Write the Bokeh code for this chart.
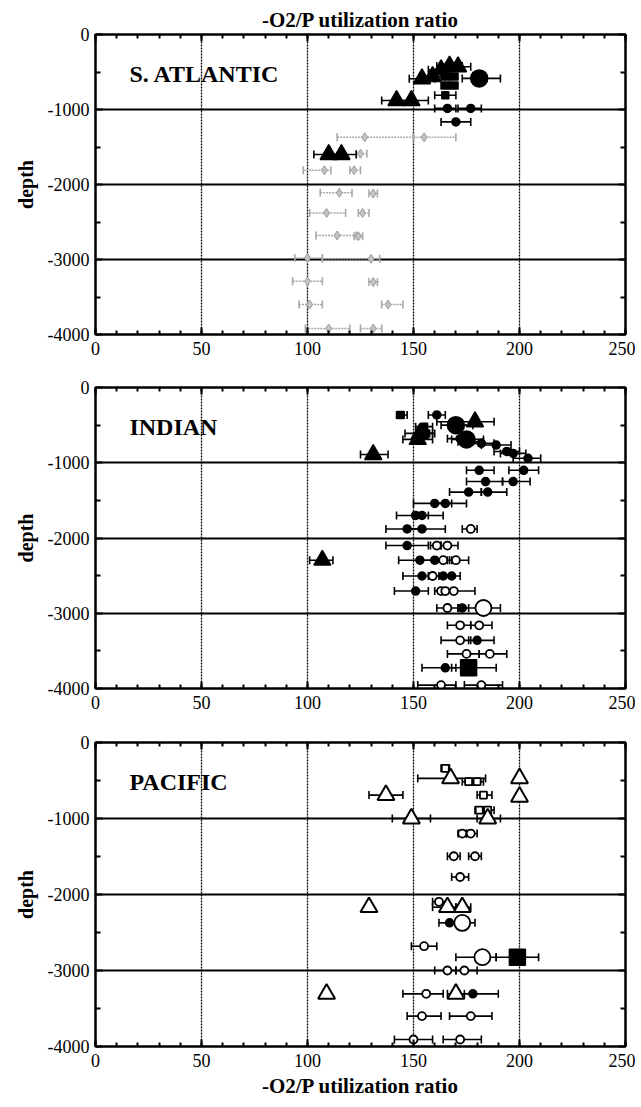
from bokeh.plotting import figure
from bokeh.layouts import column
from bokeh.models import (Range1d, FixedTicker, LinearAxis, Whisker, TeeHead,
                          ColumnDataSource, Label)
from bokeh.embed import file_html
from bokeh.resources import INLINE

# ---------------- tick values ----------------
X_TICKS = [0, 50, 100, 150, 200, 250]
X_MINOR = [0, 10, 20, 30, 40, 50, 60, 70, 80, 90, 100, 110, 120, 130, 140, 150,
           160, 170, 180, 190, 200, 210, 220, 230, 240, 250]
X_GRID = [50, 100, 150, 200]
Y_TICKS = [-4000, -3000, -2000, -1000, 0]
Y_TICK_LABELS = ["-4000", "-3000", "-2000", "-1000", "0"]
Y_MINOR = [-3500, -2500, -1500, -500]
Y_GRID = [-3000, -2000, -1000]

# ---------------- S. ATLANTIC ----------------
sa_tri_x = [163, 167, 171, 154, 159, 142, 149, 110, 116]
sa_tri_y = [-470, -420, -430, -590, -560, -880, -880, -1600, -1600]
sa_tri_lo = [157, 161, 165, 148, 153, 135, 143, 103, 110]
sa_tri_hi = [168, 173, 177, 160, 165, 149, 157, 116, 123]

sa_bigc_x = [181]
sa_bigc_y = [-585]
sa_bigc_lo = [173]
sa_bigc_hi = [191]

sa_c_x = [166, 177, 170]
sa_c_y = [-985, -985, -1165]
sa_c_lo = [160, 171, 163]
sa_c_hi = [170, 182, 177]

sa_sq_x = [165, 169, 165, 169, 165]
sa_sq_y = [-560, -560, -680, -680, -810]
sa_sq_lo = [163, 167, 163, 167, 160]
sa_sq_hi = [167, 171, 167, 171, 170]

sa_grey_x = [127, 155, 125, 108, 122, 115, 131, 109, 126, 114, 124, 100, 130,
             100, 131, 101, 138, 110, 131]
sa_grey_y = [-1370, -1370, -1590, -1810, -1810, -2110, -2120, -2380, -2380,
             -2680, -2690, -2980, -2990, -3290, -3300, -3600, -3600, -3920, -3920]
sa_grey_lo = [114, 150, 123, 98, 120, 106, 129, 101, 124, 104, 122, 94, 107,
              93, 129, 96, 135, 99, 125]
sa_grey_hi = [150, 170, 128, 111, 125, 121, 133, 118, 129, 123, 126, 107, 134,
              107, 133, 107, 145, 120, 135]

# ---------------- INDIAN ----------------
in_sq_x = [144, 155, 156]
in_sq_y = [-365, -520, -610]
in_sq_lo = [142, 151, 152]
in_sq_hi = [147, 159, 160]

in_c_x = [161, 172, 177, 182, 189, 194, 197, 204, 181, 202, 184, 197, 176, 185,
          160, 165, 151, 154, 147, 154, 147, 153, 160, 154, 164, 168, 151, 173,
          180, 165]
in_c_y = [-365, -680, -720, -742, -765, -850, -876, -940, -1100, -1100, -1250,
          -1250, -1390, -1390, -1540, -1540, -1700, -1700, -1880, -1880, -2100,
          -2295, -2295, -2505, -2505, -2505, -2705, -2930, -3360, -3725]
in_c_lo = [157, 166, 171, 176, 182, 188, 191, 197, 175, 195, 175, 192, 167, 182,
           150, 160, 142, 150, 137, 148, 137, 143, 154, 145, 160, 165, 141, 171,
           176, 154]
in_c_hi = [165, 178, 183, 188, 196, 200, 203, 210, 188, 209, 192, 205, 182, 194,
           168, 175, 157, 164, 155, 165, 157, 160, 166, 160, 168, 172, 157, 176,
           188, 170]

in_oc_x = [177, 161, 166, 164, 170, 159, 163, 165, 169, 166, 172, 181, 172, 175,
           186, 163, 182]
in_oc_y = [-1880, -2100, -2100, -2295, -2295, -2505, -2705, -2705, -2705, -2930,
           -3160, -3160, -3360, -3540, -3540, -3955, -3955]
in_oc_lo = [173, 158, 163, 161, 167, 157, 160, 163, 166, 161, 166, 177, 163, 166,
            181, 152, 174]
in_oc_hi = [180, 163, 171, 168, 176, 162, 166, 168, 179, 171, 177, 187, 177, 181,
            194, 170, 192]

in_bigc_x = [170, 175]
in_bigc_y = [-500, -690]
in_bigc_lo = [163, 168]
in_bigc_hi = [178, 183]

in_tri_x = [179, 153, 152, 131, 107]
in_tri_y = [-455, -610, -690, -890, -2295]
in_tri_lo = [161, 146, 145, 125, 101]
in_tri_hi = [188, 159, 159, 138, 112]

in_bigoc_x = [183]
in_bigoc_y = [-2930]
in_bigoc_lo = [172]
in_bigoc_hi = [191]

in_bigsq_x = [176]
in_bigsq_y = [-3725]
in_bigsq_lo = [168]
in_bigsq_hi = [189]

# ---------------- PACIFIC ----------------
pa_osq_x = [165, 176, 180, 183, 181, 185]
pa_osq_y = [-340, -516, -516, -692, -890, -890]
pa_osq_lo = [163, 173, 178, 180, 179, 183]
pa_osq_hi = [167, 178, 183, 187, 184, 188]

pa_otri_x = [167.5, 200, 137, 200, 149, 185, 129, 166, 173, 109, 170]
pa_otri_y = [-472, -472, -692, -714, -1000, -1000, -2167, -2167, -2167, -3307, -3307]
pa_otri_lo = [152, 200, 129, 200, 140, 180, 129, 159, 170, 109, 166]
pa_otri_hi = [184, 200, 145, 200, 158, 191, 129, 170, 177, 109, 174]

pa_oc_x = [173, 177, 169, 179, 172, 162, 155, 166, 174, 156, 154, 177, 150, 172]
pa_oc_y = [-1198, -1198, -1497, -1497, -1770, -2096, -2680, -3000, -3000, -3307,
           -3600, -3600, -3908, -3908]
pa_oc_lo = [171, 175, 166, 176, 168, 159, 149, 160, 170, 145, 147, 167, 141, 164]
pa_oc_hi = [175, 180, 172, 182, 176, 166, 161, 170, 180, 164, 163, 187, 159, 182]

pa_c_x = [167, 178]
pa_c_y = [-2373, -3307]
pa_c_lo = [162, 170]
pa_c_hi = [170, 190]

pa_bigoc_x = [173, 182.5]
pa_bigoc_y = [-2373, -2825]
pa_bigoc_lo = [170, 170]
pa_bigoc_hi = [179, 189]

pa_bigsq_x = [199]
pa_bigsq_y = [-2825]
pa_bigsq_lo = [189]
pa_bigsq_hi = [209]

SERIF = "Liberation Serif"


def add_series(p, xs, ys, lo, hi, marker, size, fill, line="black",
               line_width=1.5, bar_color="black", bar_dash="solid"):
    keep = [i for i in range(len(xs)) if hi[i] > lo[i]]
    if keep:
        wsrc = ColumnDataSource(dict(y=[ys[i] for i in keep],
                                     lo=[lo[i] for i in keep],
                                     hi=[hi[i] for i in keep]))
        w = Whisker(source=wsrc, base="y", lower="lo", upper="hi",
                    dimension="width", line_color=bar_color, line_width=1.6,
                    line_dash=bar_dash,
                    lower_head=TeeHead(size=8, line_color=bar_color, line_width=1.6),
                    upper_head=TeeHead(size=8, line_color=bar_color, line_width=1.6))
        p.add_layout(w)
    src = ColumnDataSource(dict(x=xs, y=ys))
    p.scatter("x", "y", source=src, marker=marker, size=size,
              fill_color=fill, line_color=line, line_width=line_width)


def make_panel(name, top_border, frame_h, bottom_border, title=None, xlabel=None):
    p = figure(width=635, frame_width=530, frame_height=frame_h,
               x_range=Range1d(0, 250), y_range=Range1d(-4000, 0),
               output_backend="svg", toolbar_location=None,
               min_border_left=95, min_border_right=10,
               min_border_top=top_border, min_border_bottom=bottom_border,
               background_fill_color="white", border_fill_color="white")
    if title:
        p.title.text = title
        p.title.align = "center"
        p.title.text_font = SERIF
        p.title.text_font_style = "bold"
        p.title.text_font_size = "21px"
        p.title.text_color = "black"
        p.title.standoff = 6
        p.title.offset = 0
    p.outline_line_color = "black"
    p.outline_line_width = 2

    xa = p.xaxis[0]
    xa.ticker = FixedTicker(ticks=X_TICKS, minor_ticks=X_MINOR)
    xa.major_tick_in = 7
    xa.major_tick_out = 0
    xa.minor_tick_in = 4
    xa.minor_tick_out = 0
    xa.axis_line_width = 2
    xa.major_tick_line_width = 2
    xa.minor_tick_line_width = 2
    xa.major_label_text_font = SERIF
    xa.major_label_text_font_size = "18px"
    xa.major_label_text_color = "black"
    xa.major_label_standoff = 7
    if xlabel:
        xa.axis_label = xlabel
        xa.axis_label_text_font = SERIF
        xa.axis_label_text_font_style = "bold"
        xa.axis_label_text_font_size = "21px"
        xa.axis_label_text_color = "black"
        xa.axis_label_standoff = 4

    ya = p.yaxis[0]
    ya.ticker = FixedTicker(ticks=Y_TICKS, minor_ticks=Y_MINOR)
    ya.major_label_overrides = {float(t): s for t, s in zip(Y_TICKS, Y_TICK_LABELS)}
    ya.major_tick_in = 7
    ya.major_tick_out = 0
    ya.minor_tick_in = 5
    ya.minor_tick_out = 0
    ya.axis_line_width = 2
    ya.major_tick_line_width = 2
    ya.minor_tick_line_width = 2
    ya.major_label_text_font = SERIF
    ya.major_label_text_font_size = "18px"
    ya.major_label_text_color = "black"
    ya.major_label_standoff = 6
    ya.axis_label = "depth"
    ya.axis_label_text_font = SERIF
    ya.axis_label_text_font_style = "bold"
    ya.axis_label_text_font_size = "20px"
    ya.axis_label_text_color = "black"
    ya.axis_label_standoff = 8

    top = LinearAxis(ticker=FixedTicker(ticks=X_TICKS, minor_ticks=X_MINOR),
                     major_tick_in=7, major_tick_out=0, minor_tick_in=4,
                     minor_tick_out=0, axis_line_width=2,
                     major_tick_line_width=2, minor_tick_line_width=2,
                     major_label_overrides={t: "" for t in X_TICKS},
                     major_label_text_font_size="0px", major_label_standoff=0)
    p.add_layout(top, "above")
    right = LinearAxis(ticker=FixedTicker(ticks=Y_TICKS, minor_ticks=Y_MINOR),
                       major_tick_in=7, major_tick_out=0, minor_tick_in=5,
                       minor_tick_out=0, axis_line_width=2,
                       major_tick_line_width=2, minor_tick_line_width=2,
                       major_label_overrides={t: "" for t in Y_TICKS},
                       major_label_text_font_size="0px", major_label_standoff=0)
    p.add_layout(right, "right")

    p.xgrid.ticker = FixedTicker(ticks=X_GRID)
    p.xgrid.grid_line_color = "black"
    p.xgrid.grid_line_width = 1.3
    p.xgrid.grid_line_dash = "2 1"
    p.ygrid.ticker = FixedTicker(ticks=Y_GRID)
    p.ygrid.grid_line_color = "black"
    p.ygrid.grid_line_width = 2

    p.add_layout(Label(x=16, y=-520, text=name, text_font=SERIF,
                       text_font_style="bold", text_font_size="24px",
                       text_baseline="middle", text_color="black"))
    return p


p1 = make_panel("S. ATLANTIC", 34, 300, 27, title="-O2/P utilization ratio")
add_series(p1, sa_grey_x, sa_grey_y, sa_grey_lo, sa_grey_hi, "diamond", 9,
           "#c4c4c4", line="#9a9a9a", line_width=1, bar_color="#a8a8a8",
           bar_dash="2 1")
add_series(p1, sa_sq_x, sa_sq_y, sa_sq_lo, sa_sq_hi, "square", 7, "black")
add_series(p1, sa_c_x, sa_c_y, sa_c_lo, sa_c_hi, "circle", 8, "black")
add_series(p1, sa_bigc_x, sa_bigc_y, sa_bigc_lo, sa_bigc_hi, "circle", 17, "black")
add_series(p1, sa_tri_x, sa_tri_y, sa_tri_lo, sa_tri_hi, "triangle", 17, "black")

p2 = make_panel("INDIAN", 26, 301, 28)
add_series(p2, in_sq_x, in_sq_y, in_sq_lo, in_sq_hi, "square", 7, "black")
add_series(p2, in_c_x, in_c_y, in_c_lo, in_c_hi, "circle", 8, "black")
add_series(p2, in_oc_x, in_oc_y, in_oc_lo, in_oc_hi, "circle", 8, "white", line_width=1.8)
add_series(p2, in_bigc_x, in_bigc_y, in_bigc_lo, in_bigc_hi, "circle", 17, "black")
add_series(p2, in_tri_x, in_tri_y, in_tri_lo, in_tri_hi, "triangle", 17, "black")
add_series(p2, in_bigoc_x, in_bigoc_y, in_bigoc_lo, in_bigoc_hi, "circle", 16, "white", line_width=1.8)
add_series(p2, in_bigsq_x, in_bigsq_y, in_bigsq_lo, in_bigsq_hi, "square", 16, "black")

p3 = make_panel("PACIFIC", 26, 304, 52, xlabel="-O2/P utilization ratio")
add_series(p3, pa_osq_x, pa_osq_y, pa_osq_lo, pa_osq_hi, "square", 7, "white", line_width=1.8)
add_series(p3, pa_oc_x, pa_oc_y, pa_oc_lo, pa_oc_hi, "circle", 8, "white", line_width=1.8)
add_series(p3, pa_c_x, pa_c_y, pa_c_lo, pa_c_hi, "circle", 8, "black")
add_series(p3, pa_otri_x, pa_otri_y, pa_otri_lo, pa_otri_hi, "triangle", 17, "white", line_width=2)
add_series(p3, pa_bigoc_x, pa_bigoc_y, pa_bigoc_lo, pa_bigoc_hi, "circle", 16, "white", line_width=1.8)
add_series(p3, pa_bigsq_x, pa_bigsq_y, pa_bigsq_lo, pa_bigsq_hi, "square", 16, "black")

layout = column(p1, p2, p3, spacing=0)
open("out.html", "w").write(file_html(layout, INLINE))
